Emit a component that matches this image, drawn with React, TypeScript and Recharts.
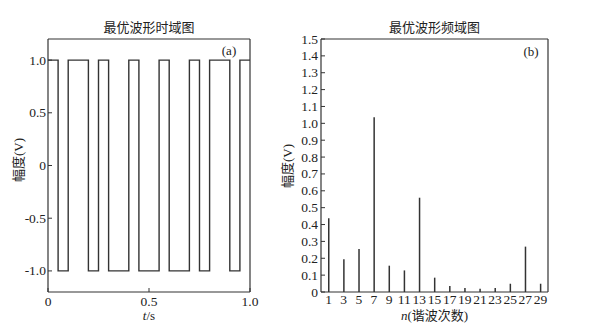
import React from 'react';
import { ComposedChart, Line, Bar, XAxis, YAxis, Label, ReferenceLine } from 'recharts';

// ---- Panel (a): optimal waveform, time domain ----
const switchTimes = [0, 0.05, 0.1, 0.2, 0.25, 0.3, 0.4, 0.45, 0.55, 0.6, 0.7, 0.75, 0.8, 0.9, 0.95, 1.0];
const levels = [1, -1, 1, -1, 1, -1, 1, -1, 1, -1, 1, -1, 1, -1, 1, 1];
const timeTicks = [0, 0.5, 1];
const timeTickLabels = ['0', '0.5', '1.0'];
const ampTicks = [-1, -0.5, 0, 0.5, 1];
const ampTickLabels = ['-1.0', '-0.5', '0', '0.5', '1.0'];

// ---- Panel (b): optimal waveform, frequency domain ----
const harmonics = [1, 3, 5, 7, 9, 11, 13, 15, 17, 19, 21, 23, 25, 27, 29];
const harmonicAmps = [0.437, 0.194, 0.255, 1.036, 0.156, 0.128, 0.559, 0.085, 0.036, 0.024, 0.02, 0.024, 0.049, 0.269, 0.049];
const specTicks = [0, 0.1, 0.2, 0.3, 0.4, 0.5, 0.6, 0.7, 0.8, 0.9, 1.0, 1.1, 1.2, 1.3, 1.4, 1.5];
const specTickLabels = ['0', '0.1', '0.2', '0.3', '0.4', '0.5', '0.6', '0.7', '0.8', '0.9', '1.0', '1.1', '1.2', '1.3', '1.4', '1.5'];

const FONT = "'Liberation Serif', 'Noto Sans CJK SC', serif";
const INK = '#222';
const LINE = '#333';
const textStyle = { fontFamily: FONT, fontSize: 13 } as React.CSSProperties;
const tickStyle = { fontFamily: FONT, fontSize: 13.5 } as React.CSSProperties;

const waveData = switchTimes.map((t, i) => ({ t, v: levels[i] }));
const specData = harmonics.map((n, i) => ({ n, a: harmonicAmps[i] }));

const makeYTick = (ticks: number[], labels: string[], gap: number) => (props: any) => {
  const { x, y, payload } = props;
  const idx = ticks.findIndex((v) => Math.abs(v - payload.value) < 1e-9);
  return (
    <g>
      <line x1={x} x2={x + 4} y1={y} y2={y} stroke={LINE} strokeWidth={1} />
      <text x={x - gap} y={y} dy={4.5} textAnchor="end" style={tickStyle} fill={INK}>
        {idx >= 0 ? labels[idx] : payload.value}
      </text>
    </g>
  );
};

const makeXTick = (ticks: number[], labels: string[], dy: number, tickLen: number) => (props: any) => {
  const { x, y, payload } = props;
  const idx = ticks.findIndex((v) => Math.abs(v - payload.value) < 1e-9);
  return (
    <g>
      {tickLen > 0 && <line x1={x} x2={x} y1={y} y2={y - tickLen} stroke={LINE} strokeWidth={1} />}
      <text x={x} y={y} dy={dy} textAnchor="middle" style={tickStyle} fill={INK}>
        {idx >= 0 ? labels[idx] : payload.value}
      </text>
    </g>
  );
};

// label attached to the top border line (ReferenceLine viewBox = line geometry)
const titleContent = (title: string, tag: string, tagDx: number, tagDy: number) => (props: any) => {
  const vb = props.viewBox;
  return (
    <g>
      <text x={vb.x + vb.width / 2} y={vb.y - 7} textAnchor="middle" style={textStyle} fill={INK}>
        {title}
      </text>
      <text x={vb.x + vb.width - tagDx} y={vb.y + tagDy} textAnchor="middle" style={textStyle} fill={INK}>
        {tag}
      </text>
    </g>
  );
};

const yTitleContent = (text: string, dx: number, cy: number) => (props: any) => {
  const vb = props.viewBox;
  const x = vb.x + dx;
  return (
    <text
      x={x}
      y={cy}
      transform={`rotate(-90 ${x} ${cy})`}
      dy={4.5}
      textAnchor="middle"
      style={textStyle}
      fill={INK}
    >
      {text}
    </text>
  );
};

const App = () => {
  return (
    <div style={{ position: 'absolute', left: 0, top: 0, width: 589, height: 332, background: '#fff' }}>
      <div style={{ position: 'absolute', left: 0, top: 0 }}>
        <ComposedChart width={275} height={332} data={waveData} margin={{ top: 39, right: 25, bottom: 0, left: 0 }}>
          <XAxis
            dataKey="t"
            type="number"
            domain={[0, 1]}
            ticks={timeTicks}
            height={40}
            tickSize={0}
            tickMargin={0}
            tickLine={false}
            axisLine={{ stroke: LINE, strokeWidth: 1.2 }}
            tick={makeXTick(timeTicks, timeTickLabels, 14, 4)}
            interval={0}
          >
            <Label
              content={(p: any) => (
                <text x={p.viewBox.x + p.viewBox.width / 2} y={p.viewBox.y + 28} textAnchor="middle" style={textStyle} fill={INK}>
                  <tspan fontStyle="italic">t</tspan>/s
                </text>
              )}
            />
          </XAxis>
          <YAxis
            type="number"
            domain={[-1.2, 1.2]}
            ticks={ampTicks}
            width={48}
            tickSize={0}
            tickMargin={0}
            tickLine={false}
            axisLine={{ stroke: LINE, strokeWidth: 1.2 }}
            tick={makeYTick(ampTicks, ampTickLabels, 2)}
            interval={0}
          >
            <Label content={yTitleContent('幅度(V)', 18, 160)} />
          </YAxis>
          <ReferenceLine y={1.2} stroke={LINE} strokeWidth={1.2} label={titleContent('最优波形时域图', '(a)', 21, 16)} />
          <ReferenceLine x={1} stroke={LINE} strokeWidth={1.2} />
          <Line
            type="stepAfter"
            dataKey="v"
            stroke={LINE}
            strokeWidth={1.4}
            dot={false}
            activeDot={false}
            isAnimationActive={false}
          />
        </ComposedChart>
      </div>
      <div style={{ position: 'absolute', left: 275, top: 0 }}>
        <ComposedChart width={314} height={332} data={specData} margin={{ top: 39, right: 41, bottom: 0, left: 0 }}>
          <XAxis
            dataKey="n"
            type="number"
            domain={[0, 30]}
            ticks={harmonics}
            height={40}
            tickSize={0}
            tickMargin={0}
            tickLine={false}
            axisLine={{ stroke: LINE, strokeWidth: 1.2 }}
            tick={makeXTick(harmonics, harmonics.map(String), 12, 0)}
            interval={0}
          >
            <Label
              content={(p: any) => (
                <text x={p.viewBox.x + p.viewBox.width / 2} y={p.viewBox.y + 28} textAnchor="middle" style={textStyle} fill={INK}>
                  <tspan fontStyle="italic">n</tspan>(谐波次数)
                </text>
              )}
            />
          </XAxis>
          <YAxis
            type="number"
            domain={[0, 1.5]}
            ticks={specTicks}
            width={46}
            tickSize={0}
            tickMargin={0}
            tickLine={false}
            axisLine={{ stroke: LINE, strokeWidth: 1.2 }}
            tick={makeYTick(specTicks, specTickLabels, 3)}
            interval={0}
          >
            <Label content={yTitleContent('幅度(V)', 12, 166)} />
          </YAxis>
          <ReferenceLine y={1.5} stroke={LINE} strokeWidth={1.2} label={titleContent('最优波形频域图', '(b)', 17, 17)} />
          <ReferenceLine x={30} stroke={LINE} strokeWidth={1.2} />
          <Bar dataKey="a" fill={LINE} barSize={1.5} isAnimationActive={false} />
        </ComposedChart>
      </div>
    </div>
  );
};

export default App;
